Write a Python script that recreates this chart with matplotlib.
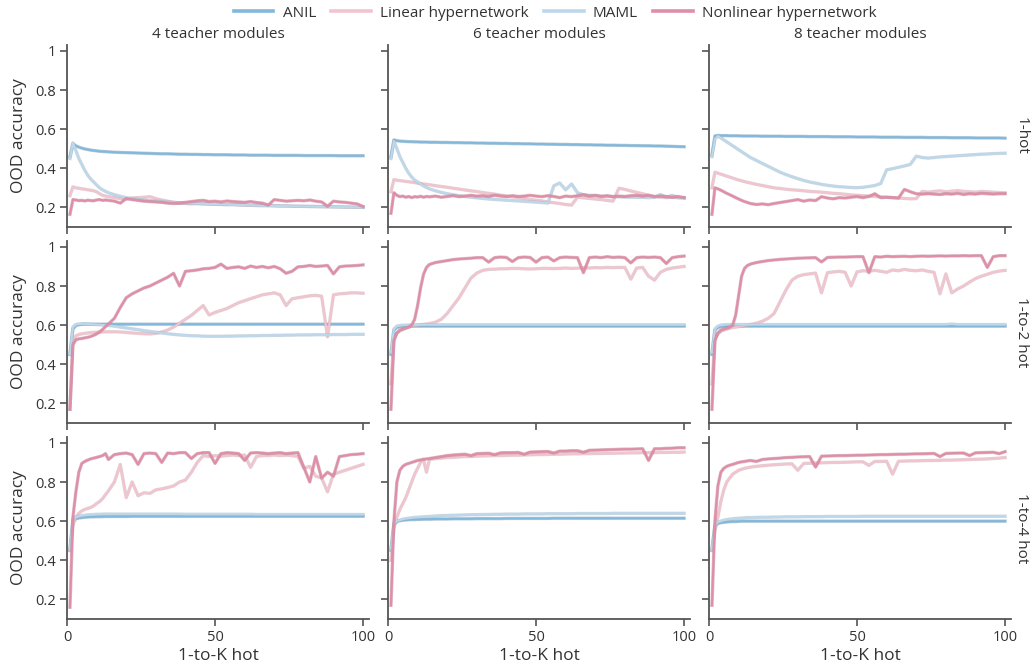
import matplotlib
matplotlib.use("Agg")
import matplotlib.pyplot as plt
import matplotlib.patheffects as pe
from matplotlib.colors import to_rgb
from matplotlib.lines import Line2D

plt.rcParams["font.family"] = ["Open Sans", "DejaVu Sans"]

# ---------------------------------------------------------------- data
# evaluation points along the 1-to-K hot axis
steps = list(range(1, 15)) + list(range(16, 101, 2))

teacher_modules = [4, 6, 8]
encodings = ["1-hot", "1-to-2 hot", "1-to-4 hot"]
methods = ["ANIL", "Linear hypernetwork", "MAML", "Nonlinear hypernetwork"]
method_colors = ["#82b8db", "#f1c4cf", "#bdd8eb", "#e08da7"]

x_ticks = [0, 50, 100]
y_ticks = [0.2, 0.4, 0.6, 0.8, 1.0]
y_tick_labels = ["0.2", "0.4", "0.6", "0.8", "1"]

# ---- 1-hot, 4 teacher modules
anil_h1_m4 = [0.460, 0.525, 0.515, 0.508, 0.503, 0.499, 0.496, 0.493, 0.491, 0.489, 0.487, 0.486, 0.485, 0.484,
              0.482, 0.481, 0.480, 0.479, 0.478, 0.477, 0.476, 0.475,
              0.474, 0.474, 0.473, 0.472, 0.472, 0.471, 0.471, 0.470,
              0.470, 0.469, 0.469, 0.469, 0.468, 0.468, 0.468, 0.467,
              0.467, 0.467, 0.467, 0.466, 0.466, 0.466, 0.466, 0.466,
              0.465, 0.465, 0.465, 0.465, 0.465, 0.465, 0.464, 0.464,
              0.464, 0.464, 0.464]
linear_h1_m4 = [0.260, 0.305, 0.300, 0.298, 0.295, 0.293, 0.290, 0.288, 0.285, 0.280, 0.270, 0.262, 0.258, 0.255,
                0.250, 0.245, 0.243, 0.248, 0.250, 0.252, 0.255, 0.245,
                0.238, 0.232, 0.226, 0.222, 0.220, 0.218, 0.220, 0.218,
                0.217, 0.216, 0.215, 0.214, 0.216, 0.213, 0.212, 0.211,
                0.210, 0.210, 0.212, 0.209, 0.208, 0.208, 0.207, 0.206,
                0.206, 0.205, 0.205, 0.204, 0.204, 0.203, 0.203, 0.202,
                0.202, 0.201, 0.201]
maml_h1_m4 = [0.450, 0.530, 0.490, 0.450, 0.420, 0.390, 0.365, 0.345, 0.330, 0.315, 0.300, 0.290, 0.282, 0.275,
              0.265, 0.257, 0.250, 0.245, 0.241, 0.238, 0.235, 0.232,
              0.230, 0.228, 0.226, 0.224, 0.222, 0.221, 0.220, 0.219,
              0.218, 0.217, 0.216, 0.215, 0.214, 0.213, 0.212, 0.211,
              0.210, 0.209, 0.208, 0.208, 0.207, 0.207, 0.206, 0.206,
              0.205, 0.205, 0.204, 0.204, 0.203, 0.203, 0.202, 0.202,
              0.201, 0.201, 0.200]
nonlinear_h1_m4 = [0.165, 0.240, 0.238, 0.235, 0.236, 0.233, 0.237, 0.235, 0.234, 0.238, 0.240, 0.236, 0.238, 0.236,
                   0.232, 0.222, 0.245, 0.240, 0.236, 0.232, 0.230, 0.228,
                   0.226, 0.222, 0.220, 0.222, 0.226, 0.230, 0.234, 0.236,
                   0.230, 0.232, 0.228, 0.233, 0.230, 0.228, 0.226, 0.230,
                   0.225, 0.222, 0.212, 0.240, 0.236, 0.232, 0.234, 0.236,
                   0.234, 0.238, 0.232, 0.228, 0.206, 0.232, 0.228, 0.226,
                   0.222, 0.218, 0.205]

# ---- 1-hot, 6 teacher modules
anil_h1_m6 = [0.460, 0.545, 0.541, 0.539, 0.538, 0.537, 0.536, 0.536, 0.535, 0.535, 0.534, 0.534, 0.534, 0.533,
              0.533, 0.532, 0.532, 0.531, 0.531, 0.530, 0.530, 0.529,
              0.529, 0.528, 0.528, 0.527, 0.527, 0.526, 0.526, 0.525,
              0.525, 0.524, 0.524, 0.523, 0.523, 0.522, 0.522, 0.521,
              0.521, 0.520, 0.520, 0.519, 0.519, 0.518, 0.518, 0.517,
              0.517, 0.516, 0.516, 0.515, 0.515, 0.514, 0.514, 0.513,
              0.512, 0.511, 0.510]
linear_h1_m6 = [0.280, 0.342, 0.339, 0.337, 0.335, 0.333, 0.331, 0.329, 0.327, 0.324, 0.322, 0.320, 0.318, 0.316,
                0.311, 0.307, 0.303, 0.298, 0.294, 0.289, 0.285, 0.281,
                0.276, 0.272, 0.268, 0.263, 0.259, 0.254, 0.250, 0.246,
                0.241, 0.237, 0.233, 0.228, 0.224, 0.220, 0.215, 0.212,
                0.252, 0.249, 0.246, 0.243, 0.240, 0.236, 0.232, 0.298,
                0.292, 0.284, 0.277, 0.270, 0.262, 0.256, 0.252, 0.250,
                0.252, 0.250, 0.248]
maml_h1_m6 = [0.450, 0.540, 0.500, 0.460, 0.430, 0.400, 0.375, 0.355, 0.340, 0.330, 0.320, 0.310, 0.302, 0.295,
              0.285, 0.277, 0.270, 0.265, 0.260, 0.256, 0.252, 0.249,
              0.246, 0.243, 0.241, 0.239, 0.237, 0.235, 0.233, 0.231,
              0.229, 0.227, 0.225, 0.222, 0.310, 0.325, 0.290, 0.320,
              0.275, 0.265, 0.262, 0.260, 0.258, 0.256, 0.255, 0.254,
              0.253, 0.252, 0.252, 0.251, 0.250, 0.252, 0.266, 0.252,
              0.262, 0.250, 0.250]
nonlinear_h1_m6 = [0.170, 0.275, 0.262, 0.255, 0.258, 0.252, 0.256, 0.250, 0.255, 0.253, 0.257, 0.252, 0.256, 0.254,
                   0.258, 0.252, 0.256, 0.260, 0.255, 0.258, 0.262, 0.258,
                   0.260, 0.256, 0.262, 0.258, 0.255, 0.260, 0.256, 0.258,
                   0.262, 0.258, 0.255, 0.260, 0.256, 0.250, 0.258, 0.255,
                   0.260, 0.265, 0.258, 0.262, 0.256, 0.260, 0.255, 0.258,
                   0.256, 0.260, 0.262, 0.258, 0.262, 0.255, 0.258, 0.256,
                   0.252, 0.256, 0.250]

# ---- 1-hot, 8 teacher modules
anil_h1_m8 = [0.470, 0.565, 0.568, 0.567, 0.567, 0.567, 0.566, 0.566, 0.566, 0.566, 0.565, 0.565, 0.565, 0.565,
              0.565, 0.564, 0.564, 0.564, 0.564, 0.563, 0.563, 0.563,
              0.563, 0.562, 0.562, 0.562, 0.562, 0.561, 0.561, 0.561,
              0.561, 0.560, 0.560, 0.560, 0.560, 0.559, 0.559, 0.559,
              0.559, 0.558, 0.558, 0.558, 0.558, 0.557, 0.557, 0.557,
              0.557, 0.556, 0.556, 0.556, 0.556, 0.555, 0.555, 0.555,
              0.555, 0.555, 0.554]
linear_h1_m8 = [0.300, 0.380, 0.375, 0.370, 0.365, 0.360, 0.355, 0.350, 0.345, 0.340, 0.336, 0.332, 0.328, 0.325,
                0.318, 0.312, 0.306, 0.300, 0.297, 0.293, 0.290, 0.288,
                0.285, 0.282, 0.280, 0.278, 0.275, 0.272, 0.270, 0.267,
                0.264, 0.262, 0.260, 0.258, 0.256, 0.254, 0.252, 0.250,
                0.248, 0.246, 0.244, 0.245, 0.282, 0.278, 0.282, 0.285,
                0.280, 0.283, 0.286, 0.282, 0.280, 0.278, 0.282, 0.280,
                0.278, 0.276, 0.275]
maml_h1_m8 = [0.460, 0.550, 0.565, 0.555, 0.545, 0.535, 0.525, 0.515, 0.505, 0.495, 0.485, 0.475, 0.465, 0.455,
              0.440, 0.425, 0.410, 0.395, 0.380, 0.368, 0.357, 0.347,
              0.338, 0.330, 0.324, 0.318, 0.313, 0.309, 0.306, 0.304,
              0.302, 0.301, 0.303, 0.307, 0.312, 0.322, 0.392, 0.398,
              0.405, 0.412, 0.420, 0.462, 0.455, 0.452, 0.455, 0.458,
              0.460, 0.462, 0.464, 0.466, 0.468, 0.470, 0.472, 0.473,
              0.475, 0.476, 0.477]
nonlinear_h1_m8 = [0.165, 0.300, 0.295, 0.288, 0.280, 0.272, 0.265, 0.258, 0.250, 0.243, 0.236, 0.230, 0.225, 0.220,
                   0.215, 0.218, 0.214, 0.220, 0.225, 0.230, 0.235, 0.240,
                   0.232, 0.238, 0.235, 0.255, 0.248, 0.244, 0.250, 0.248,
                   0.252, 0.255, 0.250, 0.256, 0.270, 0.250, 0.252, 0.250,
                   0.248, 0.292, 0.280, 0.270, 0.268, 0.270, 0.268, 0.266,
                   0.270, 0.268, 0.272, 0.266, 0.270, 0.268, 0.272, 0.270,
                   0.268, 0.270, 0.270]

# ---- 1-to-2 hot, 4 teacher modules
anil_h2_m4 = [0.450, 0.580, 0.598, 0.602, 0.604, 0.605, 0.605, 0.605, 0.605, 0.605, 0.605, 0.605, 0.605, 0.605,
              0.605, 0.605, 0.605, 0.605, 0.605, 0.605, 0.605, 0.605,
              0.605, 0.605, 0.605, 0.605, 0.605, 0.605, 0.605, 0.605,
              0.605, 0.605, 0.605, 0.605, 0.605, 0.605, 0.605, 0.605,
              0.605, 0.605, 0.605, 0.605, 0.605, 0.605, 0.605, 0.605,
              0.605, 0.605, 0.605, 0.605, 0.605, 0.605, 0.605, 0.605,
              0.605, 0.605, 0.605]
linear_h2_m4 = [0.170, 0.520, 0.545, 0.552, 0.556, 0.558, 0.560, 0.562, 0.563, 0.564, 0.565, 0.565, 0.566, 0.566,
                0.566, 0.565, 0.563, 0.560, 0.558, 0.556, 0.555, 0.558,
                0.565, 0.575, 0.590, 0.610, 0.630, 0.650, 0.675, 0.700,
                0.652, 0.665, 0.675, 0.685, 0.700, 0.715, 0.725, 0.735,
                0.745, 0.755, 0.760, 0.765, 0.755, 0.700, 0.735, 0.740,
                0.745, 0.750, 0.752, 0.748, 0.540, 0.755, 0.760, 0.762,
                0.765, 0.765, 0.763]
maml_h2_m4 = [0.450, 0.590, 0.603, 0.606, 0.607, 0.607, 0.606, 0.605, 0.604, 0.603, 0.602, 0.601, 0.600, 0.598,
              0.595, 0.590, 0.586, 0.581, 0.577, 0.572, 0.568, 0.564,
              0.560, 0.556, 0.553, 0.550, 0.548, 0.546, 0.545, 0.544,
              0.543, 0.543, 0.543, 0.544, 0.544, 0.545, 0.545, 0.546,
              0.546, 0.547, 0.547, 0.548, 0.548, 0.549, 0.549, 0.550,
              0.550, 0.550, 0.551, 0.551, 0.551, 0.552, 0.552, 0.552,
              0.553, 0.553, 0.553]
nonlinear_h2_m4 = [0.170, 0.500, 0.525, 0.530, 0.532, 0.535, 0.538, 0.542, 0.548, 0.555, 0.565, 0.578, 0.592, 0.606,
                   0.635, 0.690, 0.740, 0.760, 0.775, 0.790, 0.800, 0.815,
                   0.830, 0.845, 0.865, 0.800, 0.875, 0.878, 0.882, 0.888,
                   0.890, 0.895, 0.912, 0.890, 0.895, 0.898, 0.890, 0.902,
                   0.895, 0.900, 0.893, 0.900, 0.888, 0.865, 0.875, 0.898,
                   0.900, 0.905, 0.900, 0.902, 0.905, 0.862, 0.898, 0.902,
                   0.903, 0.905, 0.908]

# ---- 1-to-2 hot, 6 teacher modules
anil_h2_m6 = [0.450, 0.575, 0.588, 0.592, 0.594, 0.595, 0.595, 0.595, 0.595, 0.595, 0.595, 0.595, 0.595, 0.595,
              0.595, 0.595, 0.595, 0.595, 0.595, 0.595, 0.595, 0.595,
              0.595, 0.595, 0.595, 0.595, 0.595, 0.595, 0.595, 0.595,
              0.595, 0.595, 0.595, 0.595, 0.595, 0.595, 0.595, 0.595,
              0.595, 0.595, 0.595, 0.595, 0.595, 0.595, 0.595, 0.595,
              0.595, 0.595, 0.595, 0.595, 0.595, 0.595, 0.595, 0.595,
              0.595, 0.595, 0.595]
linear_h2_m6 = [0.300, 0.530, 0.560, 0.570, 0.578, 0.585, 0.590, 0.595, 0.598, 0.600, 0.602, 0.604, 0.606, 0.608,
                0.615, 0.630, 0.660, 0.700, 0.740, 0.790, 0.840, 0.866,
                0.880, 0.885, 0.886, 0.888, 0.888, 0.890, 0.890, 0.888,
                0.887, 0.888, 0.890, 0.890, 0.889, 0.890, 0.892, 0.890,
                0.891, 0.893, 0.892, 0.894, 0.893, 0.895, 0.894, 0.895,
                0.895, 0.835, 0.892, 0.895, 0.850, 0.830, 0.870, 0.885,
                0.892, 0.896, 0.900]
maml_h2_m6 = [0.460, 0.580, 0.595, 0.598, 0.600, 0.600, 0.601, 0.601, 0.601, 0.601, 0.602, 0.602, 0.602, 0.602,
              0.602, 0.602, 0.602, 0.602, 0.602, 0.602, 0.602, 0.602,
              0.602, 0.602, 0.602, 0.602, 0.602, 0.602, 0.602, 0.602,
              0.602, 0.602, 0.602, 0.602, 0.602, 0.602, 0.602, 0.602,
              0.602, 0.602, 0.602, 0.602, 0.602, 0.602, 0.602, 0.602,
              0.602, 0.602, 0.602, 0.602, 0.602, 0.602, 0.602, 0.602,
              0.602, 0.602, 0.602]
nonlinear_h2_m6 = [0.170, 0.520, 0.560, 0.575, 0.580, 0.585, 0.590, 0.600, 0.630, 0.700, 0.790, 0.860, 0.895, 0.910,
                   0.920, 0.925, 0.930, 0.935, 0.938, 0.940, 0.942, 0.945,
                   0.945, 0.922, 0.945, 0.948, 0.946, 0.925, 0.945, 0.948,
                   0.946, 0.922, 0.945, 0.948, 0.928, 0.945, 0.948, 0.946,
                   0.945, 0.868, 0.945, 0.948, 0.945, 0.950, 0.946, 0.948,
                   0.945, 0.918, 0.945, 0.948, 0.946, 0.948, 0.945, 0.915,
                   0.945, 0.950, 0.953]

# ---- 1-to-2 hot, 8 teacher modules
anil_h2_m8 = [0.450, 0.575, 0.588, 0.592, 0.594, 0.595, 0.595, 0.595, 0.595, 0.595, 0.595, 0.595, 0.595, 0.595,
              0.595, 0.595, 0.595, 0.595, 0.595, 0.595, 0.595, 0.595,
              0.595, 0.595, 0.595, 0.595, 0.595, 0.595, 0.595, 0.595,
              0.595, 0.595, 0.595, 0.595, 0.595, 0.595, 0.595, 0.595,
              0.595, 0.595, 0.595, 0.595, 0.595, 0.595, 0.595, 0.595,
              0.595, 0.595, 0.595, 0.595, 0.595, 0.595, 0.595, 0.595,
              0.595, 0.595, 0.595]
linear_h2_m8 = [0.300, 0.530, 0.555, 0.568, 0.575, 0.580, 0.584, 0.588, 0.590, 0.592, 0.595, 0.598, 0.600, 0.603,
                0.610, 0.620, 0.635, 0.660, 0.720, 0.780, 0.830, 0.850,
                0.858, 0.862, 0.866, 0.765, 0.868, 0.872, 0.875, 0.870,
                0.800, 0.872, 0.878, 0.875, 0.880, 0.875, 0.870, 0.882,
                0.878, 0.885, 0.880, 0.878, 0.882, 0.875, 0.870, 0.760,
                0.862, 0.765, 0.785, 0.800, 0.820, 0.838, 0.850, 0.860,
                0.870, 0.876, 0.880]
maml_h2_m8 = [0.460, 0.580, 0.595, 0.600, 0.602, 0.603, 0.603, 0.603, 0.603, 0.603, 0.603, 0.603, 0.603, 0.603,
              0.603, 0.603, 0.603, 0.603, 0.603, 0.603, 0.603, 0.603,
              0.603, 0.603, 0.603, 0.603, 0.603, 0.603, 0.603, 0.603,
              0.603, 0.603, 0.603, 0.603, 0.603, 0.603, 0.603, 0.603,
              0.603, 0.603, 0.603, 0.603, 0.603, 0.603, 0.603, 0.603,
              0.603, 0.606, 0.603, 0.603, 0.603, 0.603, 0.603, 0.603,
              0.603, 0.603, 0.603]
nonlinear_h2_m8 = [0.170, 0.520, 0.560, 0.575, 0.580, 0.585, 0.590, 0.600, 0.650, 0.750, 0.850, 0.890, 0.905, 0.912,
                   0.920, 0.925, 0.930, 0.933, 0.936, 0.938, 0.940, 0.942,
                   0.943, 0.944, 0.945, 0.923, 0.946, 0.947, 0.948, 0.948,
                   0.949, 0.950, 0.950, 0.868, 0.950, 0.948, 0.952, 0.950,
                   0.951, 0.952, 0.950, 0.952, 0.953, 0.952, 0.953, 0.954,
                   0.953, 0.954, 0.954, 0.955, 0.954, 0.955, 0.955, 0.895,
                   0.950, 0.955, 0.955]

# ---- 1-to-4 hot, 4 teacher modules
anil_h4_m4 = [0.450, 0.600, 0.612, 0.616, 0.618, 0.620, 0.621, 0.622, 0.622, 0.623, 0.623, 0.623, 0.624, 0.624,
              0.624, 0.624, 0.624, 0.625, 0.625, 0.625, 0.625, 0.625,
              0.625, 0.625, 0.625, 0.625, 0.625, 0.625, 0.625, 0.625,
              0.625, 0.625, 0.625, 0.625, 0.625, 0.625, 0.625, 0.625,
              0.625, 0.625, 0.625, 0.625, 0.625, 0.625, 0.625, 0.625,
              0.625, 0.625, 0.625, 0.625, 0.625, 0.625, 0.625, 0.625,
              0.625, 0.625, 0.625]
linear_h4_m4 = [0.450, 0.580, 0.620, 0.640, 0.652, 0.660, 0.665, 0.670, 0.678, 0.690, 0.700, 0.715, 0.735, 0.755,
                0.800, 0.890, 0.720, 0.800, 0.730, 0.745, 0.742, 0.760,
                0.765, 0.772, 0.780, 0.800, 0.810, 0.850, 0.900, 0.935,
                0.930, 0.935, 0.932, 0.935, 0.938, 0.935, 0.938, 0.875,
                0.930, 0.935, 0.935, 0.938, 0.935, 0.937, 0.935, 0.930,
                0.870, 0.880, 0.830, 0.820, 0.750, 0.840, 0.850, 0.860,
                0.870, 0.880, 0.890]
maml_h4_m4 = [0.460, 0.610, 0.620, 0.625, 0.628, 0.630, 0.632, 0.633, 0.634, 0.635, 0.635, 0.636, 0.636, 0.636,
              0.636, 0.636, 0.636, 0.636, 0.636, 0.636, 0.636, 0.636,
              0.636, 0.636, 0.636, 0.636, 0.635, 0.635, 0.635, 0.635,
              0.635, 0.635, 0.635, 0.635, 0.635, 0.635, 0.635, 0.635,
              0.634, 0.634, 0.634, 0.634, 0.634, 0.634, 0.634, 0.634,
              0.634, 0.634, 0.634, 0.634, 0.634, 0.634, 0.634, 0.634,
              0.634, 0.634, 0.634]
nonlinear_h4_m4 = [0.160, 0.620, 0.750, 0.850, 0.895, 0.905, 0.912, 0.918, 0.922, 0.926, 0.930, 0.935, 0.945, 0.915,
                   0.940, 0.945, 0.948, 0.940, 0.890, 0.945, 0.948, 0.945,
                   0.900, 0.948, 0.945, 0.950, 0.950, 0.920, 0.945, 0.950,
                   0.950, 0.895, 0.945, 0.950, 0.948, 0.945, 0.910, 0.948,
                   0.950, 0.948, 0.945, 0.948, 0.950, 0.945, 0.948, 0.950,
                   0.875, 0.800, 0.930, 0.820, 0.850, 0.830, 0.930, 0.935,
                   0.940, 0.942, 0.945]

# ---- 1-to-4 hot, 6 teacher modules
anil_h4_m6 = [0.450, 0.580, 0.598, 0.602, 0.605, 0.606, 0.607, 0.608, 0.608, 0.609, 0.609, 0.610, 0.610, 0.610,
              0.611, 0.611, 0.611, 0.612, 0.612, 0.612, 0.612, 0.613,
              0.613, 0.613, 0.613, 0.613, 0.614, 0.614, 0.614, 0.614,
              0.614, 0.614, 0.614, 0.614, 0.615, 0.615, 0.615, 0.615,
              0.615, 0.615, 0.615, 0.615, 0.615, 0.615, 0.615, 0.615,
              0.615, 0.615, 0.615, 0.615, 0.615, 0.615, 0.615, 0.615,
              0.615, 0.615, 0.615]
linear_h4_m6 = [0.400, 0.570, 0.620, 0.660, 0.690, 0.720, 0.760, 0.800, 0.840, 0.870, 0.900, 0.915, 0.850, 0.915,
                0.920, 0.922, 0.925, 0.926, 0.928, 0.930, 0.930, 0.932,
                0.933, 0.934, 0.935, 0.935, 0.936, 0.937, 0.937, 0.938,
                0.939, 0.940, 0.940, 0.941, 0.942, 0.942, 0.943, 0.944,
                0.944, 0.945, 0.945, 0.946, 0.946, 0.947, 0.947, 0.948,
                0.948, 0.949, 0.949, 0.950, 0.950, 0.950, 0.951, 0.951,
                0.952, 0.952, 0.953]
maml_h4_m6 = [0.460, 0.590, 0.600, 0.605, 0.610, 0.613, 0.615, 0.617, 0.619, 0.620, 0.621, 0.622, 0.623, 0.624,
              0.626, 0.628, 0.629, 0.630, 0.631, 0.632, 0.633, 0.633,
              0.634, 0.634, 0.635, 0.635, 0.636, 0.636, 0.636, 0.637,
              0.637, 0.637, 0.637, 0.638, 0.638, 0.638, 0.638, 0.638,
              0.639, 0.639, 0.639, 0.639, 0.639, 0.639, 0.640, 0.640,
              0.640, 0.640, 0.640, 0.640, 0.640, 0.640, 0.640, 0.640,
              0.640, 0.640, 0.640]
nonlinear_h4_m6 = [0.170, 0.600, 0.800, 0.860, 0.880, 0.890, 0.895, 0.900, 0.905, 0.910, 0.913, 0.916, 0.918, 0.920,
                   0.925, 0.930, 0.935, 0.938, 0.940, 0.942, 0.935, 0.945,
                   0.946, 0.947, 0.940, 0.949, 0.950, 0.950, 0.951, 0.942,
                   0.953, 0.954, 0.955, 0.956, 0.948, 0.958, 0.958, 0.960,
                   0.960, 0.952, 0.962, 0.963, 0.964, 0.965, 0.966, 0.967,
                   0.968, 0.968, 0.969, 0.970, 0.910, 0.970, 0.970, 0.972,
                   0.973, 0.975, 0.975]

# ---- 1-to-4 hot, 8 teacher modules
anil_h4_m8 = [0.450, 0.575, 0.588, 0.592, 0.594, 0.596, 0.597, 0.598, 0.598, 0.599, 0.600, 0.600, 0.600, 0.600,
              0.600, 0.600, 0.600, 0.600, 0.600, 0.600, 0.600, 0.600,
              0.600, 0.600, 0.600, 0.600, 0.600, 0.600, 0.600, 0.600,
              0.600, 0.600, 0.600, 0.600, 0.600, 0.600, 0.600, 0.600,
              0.600, 0.600, 0.600, 0.600, 0.600, 0.600, 0.600, 0.600,
              0.600, 0.600, 0.600, 0.600, 0.600, 0.600, 0.600, 0.600,
              0.600, 0.600, 0.600]
linear_h4_m8 = [0.450, 0.550, 0.620, 0.700, 0.760, 0.800, 0.820, 0.840, 0.850, 0.860, 0.865, 0.870, 0.873, 0.876,
                0.880, 0.883, 0.886, 0.888, 0.890, 0.892, 0.893, 0.860,
                0.895, 0.896, 0.897, 0.898, 0.899, 0.900, 0.900, 0.901,
                0.902, 0.903, 0.903, 0.885, 0.905, 0.905, 0.906, 0.840,
                0.906, 0.907, 0.908, 0.908, 0.909, 0.910, 0.910, 0.911,
                0.912, 0.912, 0.913, 0.914, 0.915, 0.916, 0.917, 0.918,
                0.920, 0.922, 0.925]
maml_h4_m8 = [0.460, 0.580, 0.595, 0.600, 0.605, 0.608, 0.610, 0.612, 0.614, 0.615, 0.616, 0.617, 0.618, 0.618,
              0.619, 0.620, 0.620, 0.621, 0.621, 0.622, 0.622, 0.622,
              0.623, 0.623, 0.623, 0.623, 0.624, 0.624, 0.624, 0.624,
              0.624, 0.624, 0.625, 0.625, 0.625, 0.625, 0.625, 0.625,
              0.625, 0.625, 0.625, 0.625, 0.625, 0.625, 0.625, 0.625,
              0.625, 0.625, 0.625, 0.625, 0.625, 0.625, 0.625, 0.625,
              0.625, 0.625, 0.625]
nonlinear_h4_m8 = [0.170, 0.600, 0.780, 0.850, 0.870, 0.880, 0.886, 0.890, 0.895, 0.900, 0.903, 0.905, 0.908, 0.910,
                   0.905, 0.915, 0.918, 0.920, 0.922, 0.925, 0.926, 0.928,
                   0.929, 0.930, 0.876, 0.932, 0.933, 0.934, 0.935, 0.935,
                   0.936, 0.937, 0.937, 0.938, 0.939, 0.940, 0.940, 0.941,
                   0.942, 0.942, 0.943, 0.944, 0.944, 0.945, 0.946, 0.930,
                   0.946, 0.947, 0.948, 0.948, 0.935, 0.949, 0.950, 0.951,
                   0.952, 0.945, 0.955]

# panel -> series in legend order (ANIL, Linear, MAML, Nonlinear)
panels = {
    ("1-hot", 4): [anil_h1_m4, linear_h1_m4, maml_h1_m4, nonlinear_h1_m4],
    ("1-hot", 6): [anil_h1_m6, linear_h1_m6, maml_h1_m6, nonlinear_h1_m6],
    ("1-hot", 8): [anil_h1_m8, linear_h1_m8, maml_h1_m8, nonlinear_h1_m8],
    ("1-to-2 hot", 4): [anil_h2_m4, linear_h2_m4, maml_h2_m4, nonlinear_h2_m4],
    ("1-to-2 hot", 6): [anil_h2_m6, linear_h2_m6, maml_h2_m6, nonlinear_h2_m6],
    ("1-to-2 hot", 8): [anil_h2_m8, linear_h2_m8, maml_h2_m8, nonlinear_h2_m8],
    ("1-to-4 hot", 4): [anil_h4_m4, linear_h4_m4, maml_h4_m4, nonlinear_h4_m4],
    ("1-to-4 hot", 6): [anil_h4_m6, linear_h4_m6, maml_h4_m6, nonlinear_h4_m6],
    ("1-to-4 hot", 8): [anil_h4_m8, linear_h4_m8, maml_h4_m8, nonlinear_h4_m8],
}
for key, series in panels.items():
    for s in series:
        assert len(s) == len(steps), (key, len(s))

# ---------------------------------------------------------------- style
TEXT = "#333333"
SPINE = "#555555"


def darker(color, f=0.82):
    r, g, b = to_rgb(color)
    return (r * f, g * f, b * f)


fig = plt.figure(figsize=(10.34, 6.72), dpi=100)
fig.patch.set_facecolor("white")

left, right = 67 / 1034, 1011 / 1034
top, bottom = 1 - 45 / 672, 1 - 619 / 672
fig.subplots_adjust(left=left, right=right, top=top, bottom=bottom,
                    wspace=19 / 302, hspace=14 / 182)
axes = fig.subplots(3, 3, sharex=True, sharey=True)

for r, enc in enumerate(encodings):
    for c, mods in enumerate(teacher_modules):
        ax = axes[r, c]
        for series, col in zip(panels[(enc, mods)], method_colors):
            ax.plot(steps, series, color=col, lw=1.5, solid_joinstyle="round",
                    path_effects=[pe.Stroke(linewidth=2.4, foreground=darker(col), alpha=0.5),
                                  pe.Normal()])
        ax.set_xlim(0, 102)
        ax.set_ylim(0.1, 1.03)
        ax.set_xticks(x_ticks)
        ax.set_yticks(y_ticks)
        ax.set_yticklabels(y_tick_labels)
        for side in ("top", "right"):
            ax.spines[side].set_visible(False)
        for side in ("left", "bottom"):
            ax.spines[side].set_color(SPINE)
            ax.spines[side].set_linewidth(1.3)
        ax.tick_params(direction="out", length=5, width=1.2, color=SPINE,
                       labelcolor=TEXT, labelsize=10.5, pad=3)
        if r == 0:
            ax.set_title(f"{mods} teacher modules", fontsize=11, color=TEXT, pad=5)
        if c == 0:
            ax.set_ylabel("OOD accuracy", fontsize=12.5, color=TEXT, labelpad=6)
        if r == 2:
            ax.set_xlabel("1-to-K hot", fontsize=12.5, color=TEXT, labelpad=2)
        if c == 2:
            ax.text(1.01, 0.5, enc, transform=ax.transAxes, rotation=270,
                    ha="left", va="center", fontsize=11, color=TEXT)

handles = [Line2D([], [], color=col, lw=2.6) for col in method_colors]
fig.legend(handles, methods, loc="upper center", bbox_to_anchor=(0.537, 1.012),
           ncol=4, frameon=False, fontsize=11, handlelength=2.6,
           handletextpad=0.6, columnspacing=1.0, labelcolor=TEXT)

fig.savefig("out.png", dpi=100, facecolor="white")
